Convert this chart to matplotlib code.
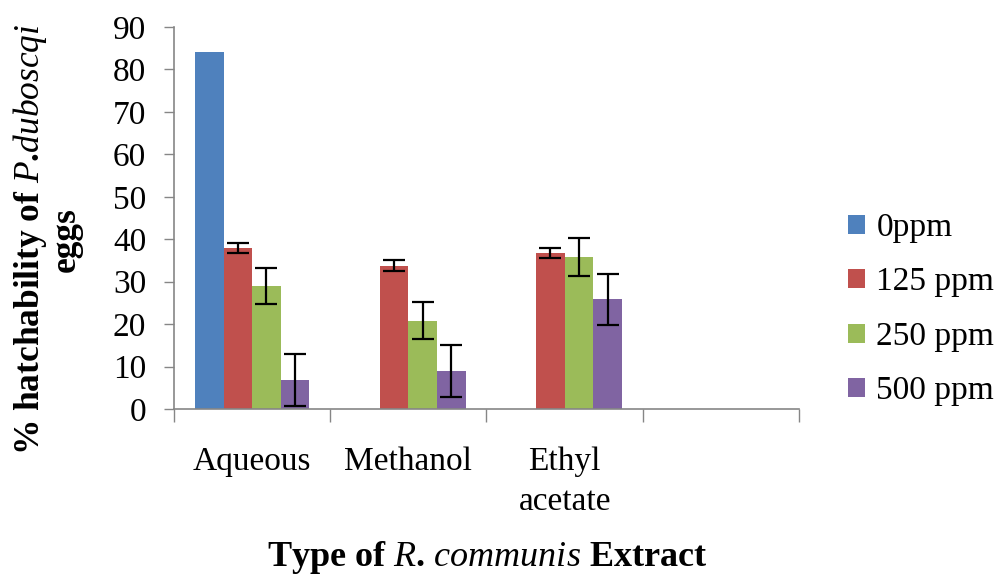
import matplotlib
matplotlib.use("Agg")
import matplotlib.pyplot as plt
import numpy as np

plt.rcParams['font.family'] = ['Liberation Serif', 'DejaVu Serif']
plt.rcParams['mathtext.fontset'] = 'custom'
plt.rcParams['mathtext.rm'] = 'Liberation Serif'
plt.rcParams['mathtext.it'] = 'Liberation Serif:italic'
plt.rcParams['mathtext.bf'] = 'Liberation Serif:bold'

# ===== Data =====
categories = ["Aqueous", "Methanol", "Ethyl\nacetate", ""]
series = ["0ppm", "125 ppm", "250 ppm", "500 ppm"]
ppm0 = [84, np.nan, np.nan, np.nan]
ppm125 = [38, 33.8, 36.8, np.nan]
ppm250 = [29, 20.8, 35.8, np.nan]
ppm500 = [6.8, 9.0, 25.8, np.nan]
err125 = [1.2, 1.2, 1.2, 0]
err250 = [4.3, 4.4, 4.5, 0]
err500 = [6.1, 6.1, 6.1, 0]

values = [ppm0, ppm125, ppm250, ppm500]
errors = [None, err125, err250, err500]
colors = ["#4F81BD", "#C0504D", "#9BBB59", "#8064A2"]
axis_grey = "#868686"
fs = 24

# ===== Plot =====
fig = plt.figure(figsize=(10, 5.75), dpi=100)
ax = fig.add_axes([0.174, 0.2887, 0.625, 0.6643])

x = np.arange(len(categories))
w = 0.183
for k, (vals, err, c, lab) in enumerate(zip(values, errors, colors, series)):
    pos = x + (k - 1.5) * w
    ax.bar(pos, vals, width=w, color=c, label=lab, edgecolor="none")
    if err is not None:
        ax.errorbar(pos, vals, yerr=err, fmt="none", ecolor="black",
                    elinewidth=1.6, capsize=8, capthick=1.6)

ax.set_xlim(-0.5, len(categories) - 0.5)
ax.set_ylim(0, 90)
ax.set_yticks(np.arange(0, 91, 10))
ax.tick_params(axis="y", labelsize=fs, length=7, width=1, color=axis_grey, pad=13)

ax.set_xticks(np.arange(len(categories) + 1) - 0.5)
ax.set_xticklabels([])
ax.tick_params(axis="x", which="major", length=9, width=1, color=axis_grey)
ax.set_xticks(x, minor=True)
ax.set_xticklabels(categories, minor=True)
ax.tick_params(axis="x", which="minor", length=0, labelsize=fs, pad=27)
for t in ax.get_xticklabels(minor=True):
    t.set_linespacing(1.4)

for s in ["top", "right"]:
    ax.spines[s].set_visible(False)
for s in ["left", "bottom"]:
    ax.spines[s].set_color(axis_grey)
    ax.spines[s].set_linewidth(1.2)

fig.text(0.047, 0.583,
         r"% hatchability of $\mathit{P}$.$\mathit{duboscqi}$" + "\neggs",
         rotation=90, ha="center", va="center", multialignment="center",
         fontsize=25.5, fontweight="bold", linespacing=1.0)

fig.text(0.487, 0.031, r"Type of $\mathit{R}$. $\mathit{communis}$ Extract",
         ha="center", va="center", fontsize=26, fontweight="bold")

fig.legend(loc="center left", bbox_to_anchor=(0.848, 0.462), frameon=False,
           fontsize=fs, handlelength=0.5, handleheight=0.5, handletextpad=0.35,
           labelspacing=0.72, borderpad=0, borderaxespad=0)

fig.savefig("out.png", dpi=100)
